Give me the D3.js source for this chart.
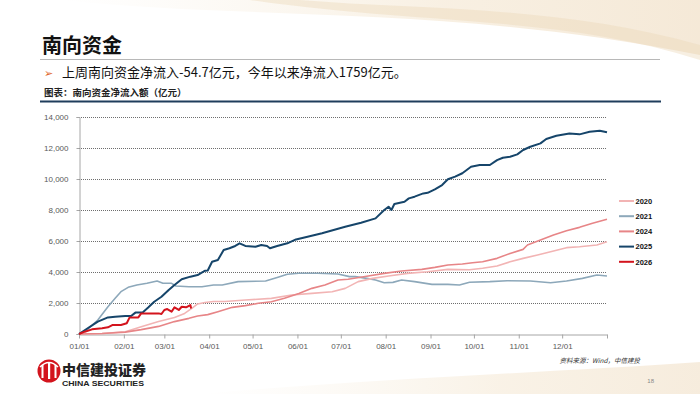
<!DOCTYPE html>
<html><head><meta charset="utf-8">
<script src="https://cdn.jsdelivr.net/npm/d3@7"></script>
<style>
html,body{margin:0;padding:0;background:#fff;}
svg{display:block;}
</style></head>
<body>
<svg id="c" width="700" height="394"></svg>
<script>
// ---------- data (day of year, 亿元) ----------
const years = ["2020","2021","2024","2025","2026"];
const monthTicks = ["01/01","02/01","03/01","04/01","05/01","06/01","07/01","08/01","09/01","10/01","11/01","12/01"];
const yTicks = [0,2000,4000,6000,8000,10000,12000,14000];

const s2020 = [[0,0],[16,30],[32,150],[43,470],[55,800],[66,1070],[73,1330],[78,1650],[82,1940],[87,2030],[93,2100],[101,2100],[115,2190],[133,2300],[147,2515],[161,2620],[175,2730],[184,2945],[193,3380],[203,3590],[214,3740],[227,3910],[241,4020],[255,4170],[270,4150],[279,4240],[289,4390],[298,4660],[307,4880],[317,5100],[326,5310],[337,5570],[346,5630],[358,5740],[365,5950]];
const s2021 = [[0,0],[6,300],[13,900],[20,1760],[25,2300],[29,2730],[34,3010],[40,3160],[47,3270],[54,3420],[58,3270],[64,3270],[67,3100],[76,3050],[85,3050],[93,3160],[99,3160],[110,3380],[129,3420],[137,3650],[144,3850],[152,3920],[165,3920],[179,3870],[187,3700],[191,3700],[199,3590],[205,3480],[211,3310],[217,3330],[223,3480],[232,3380],[244,3200],[255,3200],[263,3160],[270,3340],[284,3380],[296,3440],[312,3420],[326,3310],[337,3420],[348,3590],[358,3810],[365,3740]];
const s2024 = [[0,0],[16,30],[32,120],[43,280],[55,490],[66,800],[76,1010],[82,1160],[89,1250],[96,1440],[106,1720],[115,1830],[124,1980],[133,2080],[142,2300],[152,2620],[161,2945],[170,3160],[179,3480],[186,3530],[200,3740],[211,3910],[223,4060],[237,4170],[246,4300],[255,4450],[265,4515],[272,4600],[279,4660],[289,4880],[298,5200],[307,5460],[310,5740],[319,6060],[328,6390],[337,6660],[346,6880],[355,7140],[365,7400]];
const s2025 = [[0,0],[6,370],[13,800],[20,1070],[25,1120],[32,1160],[36,1160],[39,1380],[44,1380],[48,1720],[52,2080],[57,2400],[62,2840],[66,3160],[71,3530],[77,3700],[82,3800],[86,4020],[87,4080],[89,4100],[92,4660],[96,4770],[100,5420],[104,5530],[108,5680],[111,5850],[115,5680],[122,5630],[126,5740],[130,5680],[132,5530],[137,5680],[144,5850],[150,6100],[158,6280],[168,6500],[176,6710],[184,6920],[195,7180],[205,7460],[211,8000],[214,8210],[216,8000],[218,8390],[225,8530],[228,8750],[232,8860],[238,9070],[241,9110],[246,9330],[251,9610],[255,9980],[260,10150],[265,10370],[271,10790],[277,10900],[284,10900],[289,11220],[293,11370],[298,11440],[303,11590],[307,11870],[312,12080],[319,12300],[323,12580],[330,12790],[339,12940],[346,12880],[353,13050],[360,13110],[365,13010]];
const s2026 = [[0,0],[4,150],[9,300],[16,370],[20,430],[23,580],[29,580],[33,690],[35,1070],[41,1070],[43,1330],[55,1330],[57,1290],[59,1550],[61,1610],[64,1440],[66,1720],[69,1550],[71,1760],[74,1720],[77,1870],[77.5,1650]];
const seriesData = [s2020, s2021, s2024, s2025, s2026];

// ---------- styles ----------
const colors = {"2020":"#f2b4b4","2021":"#8da8ba","2024":"#e78587","2025":"#16456a","2026":"#d3141d"};
const widths = {"2020":1.6,"2021":1.6,"2024":1.6,"2025":2,"2026":2};

const svg = d3.select("#c");

// background swooshes
const defs = svg.append("defs");
const g1 = defs.append("linearGradient").attr("id","sw1").attr("x1","0").attr("x2","1").attr("y1","0").attr("y2","0");
g1.append("stop").attr("offset","0").attr("stop-color","#f6ecdc").attr("stop-opacity",0);
g1.append("stop").attr("offset","0.6").attr("stop-color","#f3e4cc").attr("stop-opacity",0.8);
g1.append("stop").attr("offset","1").attr("stop-color","#efdcc0").attr("stop-opacity",0.9);
svg.append("path").attr("d","M60,0 C250,20 450,5 700,55 L700,0 Z").attr("fill","url(#sw1)").attr("opacity",0.7);
svg.append("path").attr("d","M250,0 C420,25 560,15 700,60 L700,45 C560,5 420,10 300,0 Z").attr("fill","#ead6b6").attr("opacity",0.4);
svg.append("path").attr("d","M200,394 C380,378 560,372 700,362 L700,394 Z").attr("fill","url(#sw1)").attr("opacity",0.6);

// header
svg.append("text").attr("x",42).attr("y",53).text("南向资金")
  .attr("font-family","'Noto Sans CJK SC'").attr("font-weight","bold").attr("font-size",20).attr("fill","#111");
svg.append("line").attr("x1",40).attr("x2",660).attr("y1",59.5).attr("y2",59.5).attr("stroke","#b8b8b8").attr("stroke-width",1);
svg.append("text").attr("x",44).attr("y",77).text("➢").attr("font-family","'DejaVu Sans'").attr("font-size",11).attr("fill","#e0662a");
svg.append("text").attr("x",62).attr("y",77).text("上周南向资金净流入-54.7亿元，今年以来净流入1759亿元。")
  .attr("font-family","'Noto Sans CJK SC'").attr("font-size",13).attr("fill","#111");
svg.append("text").attr("x",44).attr("y",96).text("图表：南向资金净流入额（亿元）")
  .attr("font-family","'Noto Sans CJK SC'").attr("font-weight","bold").attr("font-size",9.5).attr("fill","#222");
svg.append("line").attr("x1",40).attr("x2",661).attr("y1",101.5).attr("y2",101.5).attr("stroke","#1f3d5c").attr("stroke-width",2);

// scales
const t0 = new Date(2025,0,1), t1 = new Date(2026,0,1);
const x = d3.scaleTime().domain([t0,t1]).range([79,607]);
const y = d3.scaleLinear().domain([0,14000]).range([334,117]);
const dayToDate = d => new Date(t0.getTime() + d*864e5);

// gridlines
svg.append("g").selectAll("line").data(yTicks.filter(v=>v>0)).join("line")
  .attr("x1",79).attr("x2",607).attr("y1",d=>y(d)+0.5).attr("y2",d=>y(d)+0.5)
  .attr("stroke","#6e6e6e").attr("stroke-width",1).attr("stroke-dasharray","1,1");

// y axis
const yAxis = svg.append("g").attr("transform","translate(79.5,0)")
  .call(d3.axisLeft(y).tickValues(yTicks).tickSize(3).tickPadding(8).tickFormat(d3.format(",")));
yAxis.select(".domain").attr("stroke","#a6a6a6");
yAxis.selectAll(".tick line").attr("stroke","#a6a6a6");
yAxis.selectAll("text").attr("font-family","'Liberation Sans'").attr("font-size",8).attr("fill","#595959");

// x axis
const xTickVals = d3.timeMonth.range(t0, d3.timeDay.offset(t1,1));
const xAxis = svg.append("g").attr("transform","translate(0,334.5)")
  .call(d3.axisBottom(x).tickValues(xTickVals).tickSize(4).tickPadding(5).tickSizeOuter(0)
    .tickFormat((d,i)=> i < monthTicks.length ? monthTicks[i] : ""));
xAxis.select(".domain").attr("stroke","#a6a6a6");
xAxis.selectAll(".tick line").attr("stroke","#a6a6a6");
xAxis.selectAll("text").attr("font-family","'Liberation Sans'").attr("font-size",8).attr("fill","#595959");

// lines
const line = d3.line().x(d=>x(dayToDate(d[0]))).y(d=>y(d[1])).curve(d3.curveLinear);
const order = [1,0,2,3,4];
order.forEach(i=>{
  const yr = years[i];
  svg.append("path").datum(seriesData[i]).attr("d",line)
    .attr("fill","none").attr("stroke",colors[yr]).attr("stroke-width",widths[yr])
    .attr("stroke-linejoin","round");
});

// legend
const lg = svg.append("g");
years.forEach((yr,i)=>{
  const yy = 201 + i*15.2;
  lg.append("line").attr("x1",619).attr("x2",634).attr("y1",yy).attr("y2",yy)
    .attr("stroke",colors[yr]).attr("stroke-width",2);
  lg.append("text").attr("x",635.5).attr("y",yy+2.8).text(yr)
    .attr("font-family","'Liberation Sans'").attr("font-weight","bold").attr("font-size",7.5).attr("fill","#111");
});

// footer
svg.append("text").attr("x",640).attr("y",363).attr("text-anchor","end").text("资料来源：Wind，中信建投")
  .attr("font-family","'Noto Sans CJK SC'").attr("font-style","italic").attr("font-size",6.5).attr("fill","#333");
svg.append("text").attr("x",654).attr("y",383).attr("text-anchor","end").text("18")
  .attr("font-family","'Liberation Sans'").attr("font-size",6).attr("fill","#888");

// logo
const logo = svg.append("g");
logo.append("circle").attr("cx",49).attr("cy",371).attr("r",11.5).attr("fill","#d3141d");
[[42.5,365,2,13],[49,362,2.2,17],[55.5,365,2,13]].forEach(r=>{
  logo.append("rect").attr("x",r[0]-1).attr("y",r[1]).attr("width",r[2]).attr("height",r[3]).attr("fill","#fff");
});
logo.append("path").attr("d","M40,367 Q49,358 58,367").attr("fill","none").attr("stroke","#fff").attr("stroke-width",1.6);
logo.append("text").attr("x",62).attr("y",375).text("中信建投证券")
  .attr("font-family","'Noto Sans CJK SC'").attr("font-weight","900").attr("font-size",14).attr("fill","#222");
logo.append("text").attr("x",62).attr("y",386).text("CHINA SECURITIES").attr("textLength",82).attr("lengthAdjust","spacingAndGlyphs")
  .attr("font-family","'Liberation Sans'").attr("font-weight","bold").attr("font-size",8).attr("fill","#222");
</script>
</body></html>
